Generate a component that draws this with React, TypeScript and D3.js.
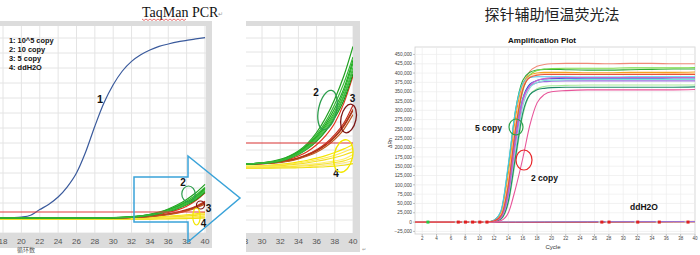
import React from 'react';
import * as d3 from 'd3';

// ---------- TaqMan PCR (relative fluorescence, threshold = 1) ----------
const highCopyCycles = [17, 18, 19, 20, 21, 22, 23, 24, 25, 26, 27, 28, 29, 30, 31, 32, 33, 34, 35, 36, 37, 38, 39, 40];
const highCopyValues = [0, 0, 0.05, 0.15, 0.45, 1.4, 2.3, 3.5, 5.2, 7.5, 11.0, 15.3, 19.2, 22.2, 24.5, 26.1, 27.2, 28.0, 28.6, 29.0, 29.35, 29.6, 29.85, 30.05];

const taqCycles = [17, 28, 30, 32, 33, 34, 35, 36, 37, 38, 39, 40];
const tenCopySeries = [
  [0, 0, 0.05, 0.22, 0.38, 0.62, 0.98, 1.5, 2.2, 3.1, 4.2, 5.6],
  [0, 0, 0.05, 0.19, 0.35, 0.58, 0.92, 1.4, 2.02, 2.85, 3.85, 5.1],
  [0, 0, 0.05, 0.18, 0.34, 0.56, 0.88, 1.32, 1.9, 2.65, 3.6, 4.95],
  [0, 0, 0.04, 0.17, 0.32, 0.53, 0.83, 1.25, 1.8, 2.5, 3.45, 4.8],
  [0, 0, 0.04, 0.16, 0.3, 0.5, 0.8, 1.2, 1.72, 2.4, 3.3, 4.6],
  [0, 0, 0.03, 0.14, 0.27, 0.45, 0.72, 1.08, 1.56, 2.2, 3.05, 4.3],
  [0, 0, 0.04, 0.15, 0.28, 0.47, 0.75, 1.13, 1.63, 2.3, 3.2, 4.45],
];
const fiveCopySeries = [
  [0, 0, 0.03, 0.12, 0.22, 0.38, 0.6, 0.92, 1.35, 1.95, 2.9, 4.2],
  [0, 0, 0.03, 0.1, 0.18, 0.3, 0.46, 0.68, 0.98, 1.4, 1.95, 2.8],
  [0, 0, 0.02, 0.1, 0.17, 0.28, 0.44, 0.64, 0.92, 1.3, 1.85, 2.6],
  [0, 0, 0.02, 0.09, 0.16, 0.27, 0.42, 0.62, 0.9, 1.28, 1.8, 2.55],
  [0, 0, 0.02, 0.08, 0.14, 0.24, 0.38, 0.56, 0.82, 1.18, 1.65, 2.35],
];
const ddh2oTaqSeries = [
  [-0.1, -0.1, -0.08, -0.02, 0.03, 0.1, 0.18, 0.28, 0.4, 0.55, 0.72, 0.92],
  [-0.12, -0.12, -0.1, -0.05, -0.01, 0.05, 0.12, 0.2, 0.3, 0.42, 0.57, 0.75],
  [-0.15, -0.15, -0.13, -0.09, -0.05, 0, 0.06, 0.13, 0.21, 0.31, 0.43, 0.58],
  [-0.15, -0.15, -0.14, -0.12, -0.1, -0.07, -0.03, 0.02, 0.08, 0.15, 0.24, 0.45],
  [-0.18, -0.18, -0.17, -0.15, -0.13, -0.11, -0.08, -0.04, 0.01, 0.07, 0.15, 0.3],
  [-0.2, -0.2, -0.19, -0.18, -0.17, -0.15, -0.13, -0.1, -0.06, -0.01, 0.06, 0.15],
  [-0.2, -0.2, -0.2, -0.19, -0.19, -0.18, -0.17, -0.15, -0.13, -0.1, -0.06, 0.02],
];
const thresholdValue = 1;
const leftTicks = [18, 20, 22, 24, 26, 28, 30, 32, 34, 36, 38, 40];
const midTicks = [28, 30, 32, 34, 36, 38, 40];
const legendLines = ['1: 10^5 copy', '2: 10 copy', '3: 5 copy', '4: ddH2O'];

// ---------- Isothermal amplification plot (ΔRn) ----------
const ampCycles = [1, 11, 12, 13, 14, 15, 16, 17, 18, 19, 20, 22, 25, 28, 31, 34, 37, 40];
const ampSeriesK = [
  [0, 0, 3, 18, 95, 250, 360, 405, 418, 423, 425, 426, 426, 425, 426, 426, 425, 425],
  [0, 0, 5, 30, 150, 300, 380, 402, 408, 410, 410, 409, 408, 408, 409, 410, 411, 411],
  [0, 0, 4, 26, 130, 280, 370, 395, 400, 402, 402, 402, 401, 401, 402, 402, 402, 403],
  [0, 0, 3, 16, 90, 240, 350, 395, 407, 411, 412, 413, 413, 413, 414, 414, 414, 415],
  [0, 0, 5, 32, 155, 300, 372, 388, 390, 390, 390, 390, 389, 389, 390, 390, 390, 390],
  [0, 0, 3, 14, 80, 225, 330, 370, 380, 384, 385, 386, 386, 386, 386, 386, 387, 387],
  [0, 0, 3, 15, 85, 230, 330, 365, 374, 377, 378, 379, 379, 379, 379, 379, 379, 379],
  [0, 0, 2, 10, 60, 190, 310, 360, 375, 380, 381, 382, 383, 383, 383, 383, 383, 383],
  [0, 0, 1, 8, 50, 165, 285, 342, 358, 364, 366, 367, 368, 368, 368, 368, 368, 368],
  [0, 0, 1, 9, 55, 175, 292, 342, 355, 359, 361, 362, 362, 362, 362, 362, 362, 363],
  [0, 0, 0, 4, 25, 90, 170, 260, 320, 342, 350, 353, 355, 355, 355, 355, 355, 356],
  [0, 0, 3, 20, 110, 260, 362, 390, 396, 398, 398, 398, 398, 398, 398, 398, 399, 399],
  [0, 0, 2, 12, 72, 210, 322, 366, 380, 385, 387, 388, 388, 388, 388, 388, 388, 388],
  [0, 0, 3, 18, 100, 250, 355, 388, 394, 396, 396, 396, 396, 396, 396, 396, 396, 396],
];
const ampColors = ['#f08a78', '#2faa3a', '#f5a020', '#7fdc4a', '#48c8ec', '#2a4fd8', '#9a70e0', '#7fe0d8', '#a8ec98', '#1f8a6a', '#e8559a', '#ffc08a', '#cc66cc', '#e8503a'];
const ddh2oAmpK = [
  [0, 0, 0, 0, 0, 0, 0, 0, 0, 0, 0, 0, 0.5, 0.8, 1, 1.2, 1.5, 2],
  [-0.5, -0.5, -0.5, -0.5, -0.5, -0.5, -0.4, -0.3, -0.2, 0, 0, 0.2, 0.3, 0.5, 0.6, 0.8, 0.9, 1],
  [-1, -1, -1, -1, -1, -1, -1, -1, -1, -0.8, -0.7, -0.6, -0.5, -0.3, -0.1, 0, 0.2, 0.5],
  [0.5, 0.5, 0.5, 0.5, 0.5, 0.5, 0.5, 0.5, 0.6, 0.6, 0.7, 0.8, 0.9, 1, 1.1, 1.2, 1.3, 1.5],
];
const ddh2oAmpColors = ['#f5a040', '#5cb85c', '#dd4444', '#9a70e0'];
const markerCycles = [7, 8, 9, 10, 11, 27, 28, 32, 35, 39];
const greenMarkerCycle = 2.8;
const ampYTicks = [-25000, 0, 25000, 50000, 75000, 100000, 125000, 150000, 175000, 200000, 225000, 250000, 275000, 300000, 325000, 350000, 375000, 400000, 425000, 450000];
const ampXTicks = [2, 4, 6, 8, 10, 12, 14, 16, 18, 20, 22, 24, 26, 28, 30, 32, 34, 36, 38, 40];

const FRAME = '#dcdcdc';
const GRID = '#e4e4e4';
const sans = 'Liberation Sans, Arial, sans-serif';

export default function App() {
  // Scales
  const xL = d3.scaleLinear().domain([17.67, 40]).range([0, 205]);
  const yL = d3.scaleLinear().domain([0, 1]).range([218, 212]);
  const xM = d3.scaleLinear().domain([28.24, 40]).range([246, 353]);
  const yM = d3.scaleLinear().domain([0, 1]).range([164, 143]);
  const xA = d3.scaleLinear().domain([1, 40]).range([415, 695]);
  const yA = d3.scaleLinear().domain([-32000, 470000]).range([234, 47]);

  const mk = (xs: any, ys: any, cyc: number[]) =>
    d3.line<number>().x((_, i) => xs(cyc[i])).y((v) => ys(v)).curve(d3.curveMonotoneX);

  const lineL = mk(xL, yL, taqCycles);
  const lineM = mk(xM, yM, taqCycles);
  const lineHigh = mk(xL, yL, highCopyCycles);
  const lineA = d3.line<number>().x((_, i) => xA(ampCycles[i])).y((v) => yA(v * 1000)).curve(d3.curveMonotoneX);

  const greens = ['#1fa01f', '#33b833', '#22aa22', '#2cb52c', '#45c045', '#199419', '#3ab83a'];
  const reds = ['#e0351c', '#c42a1a', '#b8401c', '#a83218', '#c0561e'];
  const yellows = ['#f5e600', '#ffe94a', '#f2de20', '#fff06a', '#f7e430', '#ffe680', '#f0e010'];

  const leftHGrid = d3.range(-2, 76).map((k) => yL(k * 2.5));
  const midHGrid = d3.range(-5, 12).map((k) => yM((k * 2) / 3));

  const taqCurves = (line: any) => (
    <g>
      {ddh2oTaqSeries.map((s, i) => (
        <path key={'y' + i} d={line(s)} fill="none" stroke={yellows[i]} strokeWidth={1.1} />
      ))}
      {fiveCopySeries.map((s, i) => (
        <path key={'r' + i} d={line(s)} fill="none" stroke={reds[i]} strokeWidth={1.2} />
      ))}
      {tenCopySeries.map((s, i) => (
        <path key={'g' + i} d={line(s)} fill="none" stroke={greens[i]} strokeWidth={1.2} />
      ))}
    </g>
  );

  return (
    <svg width={700} height={255} style={{ position: 'absolute', left: 0, top: 0, background: '#fff' }}
      xmlns="http://www.w3.org/2000/svg">
      <defs>
        <clipPath id="clipL"><rect x={0} y={26} width={206} height={207} /></clipPath>
        <clipPath id="clipM"><rect x={246} y={26} width={107} height={207} /></clipPath>
        <clipPath id="clipMT"><rect x={246} y={230} width={120} height={25} /></clipPath>
        <clipPath id="clipA"><rect x={415} y={47} width={280} height={187} /></clipPath>
      </defs>
      <rect x={0} y={0} width={700} height={255} fill="#fff" />

      {/* ===== Titles ===== */}
      <text x={142} y={17} fontFamily="Liberation Serif, Times New Roman, serif" fontSize={14} fill="#111">TaqMan PCR</text>
      <path d={d3.range(0, 23).map((i) => `${i === 0 ? 'M' : 'L'}${142 + i * 2},${i % 2 === 0 ? 19 : 20.5}`).join(' ')}
        fill="none" stroke="#e03030" strokeWidth={0.7} />
      <text x={218} y={16} fontFamily={sans} fontSize={6} fill="#999">↵</text>
      <text x={552} y={20} textAnchor="middle" fontFamily="Noto Sans CJK SC, sans-serif" fontSize={15} fill="#222">探针辅助恒温荧光法</text>

      {/* ===== Left TaqMan panel ===== */}
      <g>
        <g clipPath="url(#clipL)">
          {leftTicks.map((t) => (
            <line key={t} x1={xL(t)} x2={xL(t)} y1={26} y2={233} stroke={GRID} />
          ))}
          {leftHGrid.map((y, i) => (
            <line key={i} x1={0} x2={206} y1={y} y2={y} stroke={GRID} />
          ))}
          <path d={lineHigh(highCopyValues) || ''} fill="none" stroke="#3a5a9c" strokeWidth={1.2} />
          {taqCurves(lineL)}
          <line x1={0} x2={xL(40)} y1={yL(thresholdValue)} y2={yL(thresholdValue)} stroke="#e23a3a" strokeWidth={1.1} />
        </g>
        <rect x={0} y={21} width={212} height={5} fill={FRAME} />
        <rect x={206} y={21} width={6} height={227} fill={FRAME} />
        <rect x={0} y={233} width={212} height={15} fill={FRAME} />
        {leftTicks.map((t) => (
          <text key={t} x={xL(t)} y={243.5} textAnchor="middle" fontFamily={sans} fontSize={8} fill="#555">{t}</text>
        ))}
        <text x={17} y={252} fontFamily="Noto Sans CJK SC, sans-serif" fontSize={6} fill="#555">循环数</text>
        {legendLines.map((s, i) => (
          <text key={s} x={9} y={42.5 + i * 9} fontFamily={sans} fontWeight="bold" fontSize={7.4} fill="#111">{s}</text>
        ))}
        <text x={100} y={103} textAnchor="middle" fontFamily={sans} fontWeight="bold" fontSize={11} fill="#111">1</text>
        <text x={183} y={186} textAnchor="middle" fontFamily={sans} fontWeight="bold" fontSize={10} fill="#111">2</text>
        <text x={208.5} y={211.5} textAnchor="middle" fontFamily={sans} fontWeight="bold" fontSize={10} fill="#111">3</text>
        <text x={203.5} y={227} textAnchor="middle" fontFamily={sans} fontWeight="bold" fontSize={10} fill="#111">4</text>
        <ellipse cx={188.5} cy={194} rx={6.7} ry={8} fill="none" stroke="#2e9e4e" strokeWidth={1.2} />
        <ellipse cx={200.5} cy={205} rx={4} ry={4} fill="none" stroke="#7a1515" strokeWidth={1.2} />
        <ellipse cx={196.5} cy={216.5} rx={3.7} ry={8.5} fill="none" stroke="#f2e600" strokeWidth={1.2} />
      </g>

      {/* ===== Middle zoomed TaqMan panel ===== */}
      <g>
        <g clipPath="url(#clipM)">
          {midTicks.map((t) => (
            <line key={t} x1={xM(t)} x2={xM(t)} y1={26} y2={233} stroke={GRID} />
          ))}
          {midHGrid.map((y, i) => (
            <line key={i} x1={246} x2={353} y1={y} y2={y} stroke={GRID} />
          ))}
          {taqCurves(lineM)}
          <line x1={246} x2={353} y1={yM(thresholdValue)} y2={yM(thresholdValue)} stroke="#d83030" strokeWidth={1.1} />
        </g>
        <rect x={246} y={21} width={114} height={5} fill={FRAME} />
        <rect x={353} y={21} width={7} height={231} fill={FRAME} />
        <rect x={246} y={233} width={114} height={19} fill={FRAME} />
        <g clipPath="url(#clipMT)">
          {midTicks.map((t) => (
            <text key={t} x={xM(t)} y={243.5} textAnchor="middle" fontFamily={sans} fontSize={8} fill="#555">{t}</text>
          ))}
        </g>
        <text x={362} y={251} fontFamily={sans} fontSize={5} fill="#999">↵</text>
        <text x={316} y={96} textAnchor="middle" fontFamily={sans} fontWeight="bold" fontSize={10} fill="#111">2</text>
        <text x={352.5} y={102} textAnchor="middle" fontFamily={sans} fontWeight="bold" fontSize={10} fill="#111">3</text>
        <text x={336} y={177} textAnchor="middle" fontFamily={sans} fontWeight="bold" fontSize={10} fill="#111">4</text>
        <ellipse cx={327.5} cy={110} rx={9} ry={20} transform="rotate(12 327.5 110)" fill="none" stroke="#2e9e4e" strokeWidth={1.3} />
        <ellipse cx={348.5} cy={118.5} rx={7.5} ry={14.5} transform="rotate(12 348.5 118.5)" fill="none" stroke="#7a1515" strokeWidth={1.3} />
        <ellipse cx={343.3} cy={156} rx={9.3} ry={16.5} transform="rotate(12 343.3 156)" fill="none" stroke="#f2e600" strokeWidth={1.3} />
      </g>

      {/* ===== Arrow ===== */}
      <path d="M134,177 L188,177 L188,156 L240,198 L188,242 L188,222 L134,222 Z" fill="none" stroke="#3aa3d9" strokeWidth={1.5} />

      {/* ===== Right amplification plot ===== */}
      <g>
        <text x={542} y={43} textAnchor="middle" fontFamily={sans} fontWeight="bold" fontSize={8} fill="#111">Amplification Plot</text>
        <rect x={415} y={47} width={280} height={187} fill="#fff" stroke="#cfcfcf" strokeWidth={0.8} />
        <g clipPath="url(#clipA)">
          {ampXTicks.map((t) => (
            <line key={t} x1={xA(t)} x2={xA(t)} y1={47} y2={234} stroke="#ededed" strokeWidth={0.7} />
          ))}
          {ampYTicks.map((t) => (
            <line key={t} x1={415} x2={695} y1={yA(t)} y2={yA(t)} stroke="#ededed" strokeWidth={0.7} />
          ))}
          {ddh2oAmpK.map((s, i) => (
            <path key={'b' + i} d={lineA(s) || ''} fill="none" stroke={ddh2oAmpColors[i]} strokeWidth={1} />
          ))}
          {ampSeriesK.map((s, i) => (
            <path key={'a' + i} d={lineA(s) || ''} fill="none" stroke={ampColors[i]} strokeWidth={1.1} />
          ))}
        </g>
        {markerCycles.map((c) => (
          <g key={c}>
            <rect x={xA(c) - 3.3} y={yA(0) - 1} width={2} height={2} fill="#c8c8c8" />
            <rect x={xA(c) - 1.3} y={yA(0) - 1.5} width={3} height={3} fill="#e02020" />
          </g>
        ))}
        <rect x={xA(greenMarkerCycle) - 1.5} y={yA(0) - 1.5} width={3} height={3} fill="#22cc44" />
        {ampYTicks.map((t) => (
          <g key={t}>
            <line x1={413} x2={415} y1={yA(t)} y2={yA(t)} stroke="#888" strokeWidth={0.5} />
            <text x={412} y={yA(t) + 1.7} textAnchor="end" fontFamily={sans} fontSize={4.8} fill="#444">{d3.format(',')(t)}</text>
          </g>
        ))}
        {ampXTicks.map((t) => (
          <g key={t}>
            <line x1={xA(t)} x2={xA(t)} y1={234} y2={236} stroke="#888" strokeWidth={0.5} />
            <text x={xA(t)} y={240} textAnchor="middle" fontFamily={sans} fontSize={4.5} fill="#444">{t}</text>
          </g>
        ))}
        <text x={553} y={249} textAnchor="middle" fontFamily={sans} fontSize={6} fill="#333">Cycle</text>
        <text x={392} y={143} textAnchor="middle" fontFamily={sans} fontSize={5} fill="#333" transform="rotate(-90 392 143)">ΔRn</text>
        <text x={475} y={131} fontFamily={sans} fontWeight="bold" fontSize={8.5} fill="#111">5 copy</text>
        <text x={531} y={181} fontFamily={sans} fontWeight="bold" fontSize={8.5} fill="#111">2 copy</text>
        <text x={630} y={210} fontFamily={sans} fontWeight="bold" fontSize={8.5} fill="#111">ddH2O</text>
        <ellipse cx={516} cy={127} rx={7} ry={8} fill="none" stroke="#2ca24a" strokeWidth={1.2} />
        <ellipse cx={524} cy={160} rx={8} ry={10} fill="none" stroke="#e8262a" strokeWidth={1.2} />
      </g>
    </svg>
  );
}
